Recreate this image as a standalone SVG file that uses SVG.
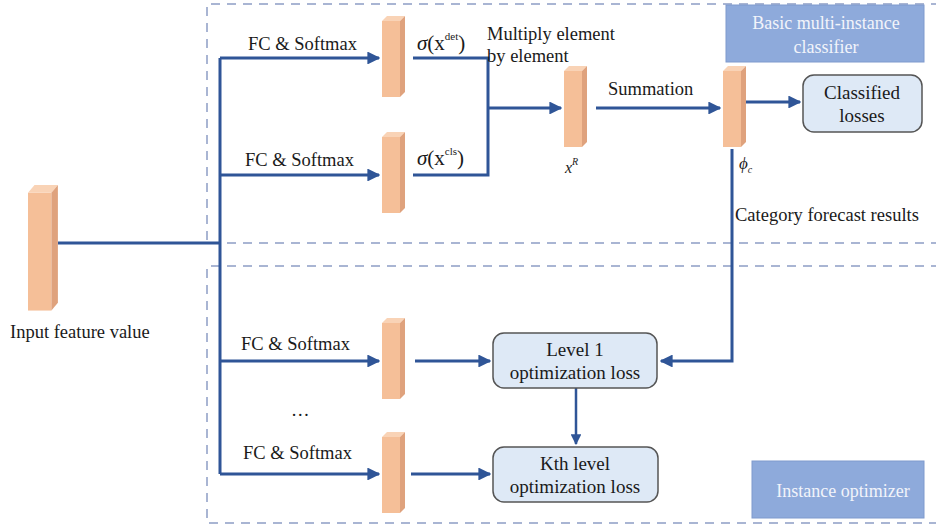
<svg xmlns="http://www.w3.org/2000/svg" width="936" height="530" viewBox="0 0 936 530">
  <defs>
    <marker id="arrow" viewBox="0 0 10 10" refX="9" refY="5" markerWidth="4.3" markerHeight="4.3" orient="auto-start-reverse" markerUnits="strokeWidth">
      <path d="M0,0 L10,5 L0,10 z" fill="#2f5597"/>
    </marker>
    <!-- 3D feature bar: front face, top bevel, side face -->
    <g id="bar">
      <rect x="0" y="5" width="18" height="76" fill="#f5bf98"/>
      <polygon points="0,5 5,0 23,0 18,5" fill="#f9d3b6"/>
      <polygon points="18,5 23,0 23,76 18,81" fill="#dfa27d"/>
    </g>
  </defs>
  <style>
    text { font-family: "Liberation Serif", "Times New Roman", serif; fill: #1a1a1a; }
    .lbl { font-size: 18.5px; }
    .zone { fill: none; stroke: #a9b5d3; stroke-width: 2; stroke-dasharray: 9 7; }
    .wire { fill: none; stroke: #2f5597; stroke-width: 3; }
    .tag { fill: #8eaadb; stroke: #7f9acd; stroke-width: 1; }
    .tagtxt { font-size: 18px; fill: #f2f4fa; text-anchor: middle; }
    .loss { fill: #dee9f6; stroke: #555; stroke-width: 1.5; }
    .losstxt { font-size: 19px; text-anchor: middle; }
  </style>

  <rect width="936" height="530" fill="#ffffff"/>

  <!-- dashed regions -->
  <g id="zones">
    <path class="zone" d="M940,4 H207 V243 H940"/>
    <path class="zone" d="M940,266 H207 V523 H940"/>
  </g>

  <!-- region tags -->
  <g id="tag-classifier">
    <rect class="tag" x="726" y="5" width="198" height="57"/>
    <text class="tagtxt" x="826" y="29">Basic multi-instance</text>
    <text class="tagtxt" x="826" y="53">classifier</text>
  </g>
  <g id="tag-optimizer">
    <rect class="tag" x="752" y="461" width="172" height="57"/>
    <text class="tagtxt" x="843" y="497">Instance optimizer</text>
  </g>

  <!-- connectors -->
  <g id="connectors">
    <path class="wire" d="M58,243 H220"/>
    <path class="wire" d="M220,474 V58"/>
    <path class="wire" d="M220,58 H379" marker-end="url(#arrow)"/>
    <path class="wire" d="M220,175 H379" marker-end="url(#arrow)"/>
    <path class="wire" d="M220,361 H379" marker-end="url(#arrow)"/>
    <path class="wire" d="M220,474 H379" marker-end="url(#arrow)"/>
    <path class="wire" d="M413,58 H488 V175 H413"/>
    <path class="wire" d="M488,108 H561" marker-end="url(#arrow)"/>
    <path class="wire" d="M596,108 H720" marker-end="url(#arrow)"/>
    <path class="wire" d="M746,102 H800" marker-end="url(#arrow)"/>
    <path class="wire" d="M732,149 V361 H661" marker-end="url(#arrow)"/>
    <path class="wire" d="M415,361 H490" marker-end="url(#arrow)"/>
    <path class="wire" d="M411,474 H490" marker-end="url(#arrow)"/>
    <path class="wire" d="M576,388 V444" marker-end="url(#arrow)" style="stroke-width:2.5"/>
  </g>

  <!-- input -->
  <g id="input">
    <g transform="translate(28,185) scale(1.3,1.55)"><use href="#bar"/></g>
    <text class="lbl" x="10" y="338">Input feature value</text>
  </g>

  <!-- classifier branches -->
  <g id="fc-det">
    <text class="lbl" x="248" y="50">FC &amp; Softmax</text>
    <use href="#bar" x="382" y="16"/>
    <text x="417" y="50" font-size="21"><tspan font-style="italic">σ</tspan>(x<tspan font-size="11" dy="-10">det</tspan><tspan dy="10">)</tspan></text>
  </g>
  <g id="fc-cls">
    <text class="lbl" x="245" y="166">FC &amp; Softmax</text>
    <use href="#bar" x="382" y="132"/>
    <text x="417" y="165" font-size="21"><tspan font-style="italic">σ</tspan>(x<tspan font-size="11" dy="-10">cls</tspan><tspan dy="10">)</tspan></text>
  </g>
  <g id="multiply">
    <text class="lbl" x="487" y="40">Multiply element</text>
    <text class="lbl" x="487" y="62">by element</text>
  </g>
  <g id="xr">
    <use href="#bar" x="564" y="66"/>
    <text x="565" y="173" font-size="16" font-style="italic">x<tspan font-size="10" dy="-8">R</tspan></text>
  </g>
  <g id="summation">
    <text class="lbl" x="608" y="95">Summation</text>
  </g>
  <g id="phi">
    <use href="#bar" x="723" y="66"/>
    <text x="739" y="169" font-size="17" font-style="italic">ϕ<tspan font-size="10" dy="4">c</tspan></text>
    <text class="lbl" x="735" y="221">Category forecast results</text>
  </g>
  <g id="classified-losses">
    <rect class="loss" x="803" y="75" width="119" height="57" rx="11"/>
    <text class="losstxt" x="862" y="99">Classified</text>
    <text class="losstxt" x="862" y="122">losses</text>
  </g>

  <!-- optimizer branches -->
  <g id="fc-level1">
    <text class="lbl" x="241" y="350">FC &amp; Softmax</text>
    <use href="#bar" x="382" y="318"/>
  </g>
  <g id="ellipsis">
    <text class="lbl" x="291" y="416">…</text>
  </g>
  <g id="fc-levelk">
    <text class="lbl" x="243" y="459">FC &amp; Softmax</text>
    <use href="#bar" x="382" y="432"/>
  </g>
  <g id="level1-loss">
    <rect class="loss" x="493" y="333" width="164" height="55" rx="11"/>
    <text class="losstxt" x="575" y="356">Level 1</text>
    <text class="losstxt" x="575" y="379">optimization loss</text>
  </g>
  <g id="levelk-loss">
    <rect class="loss" x="493" y="447" width="165" height="55" rx="11"/>
    <text class="losstxt" x="575" y="470">Kth level</text>
    <text class="losstxt" x="575" y="493">optimization loss</text>
  </g>
</svg>
